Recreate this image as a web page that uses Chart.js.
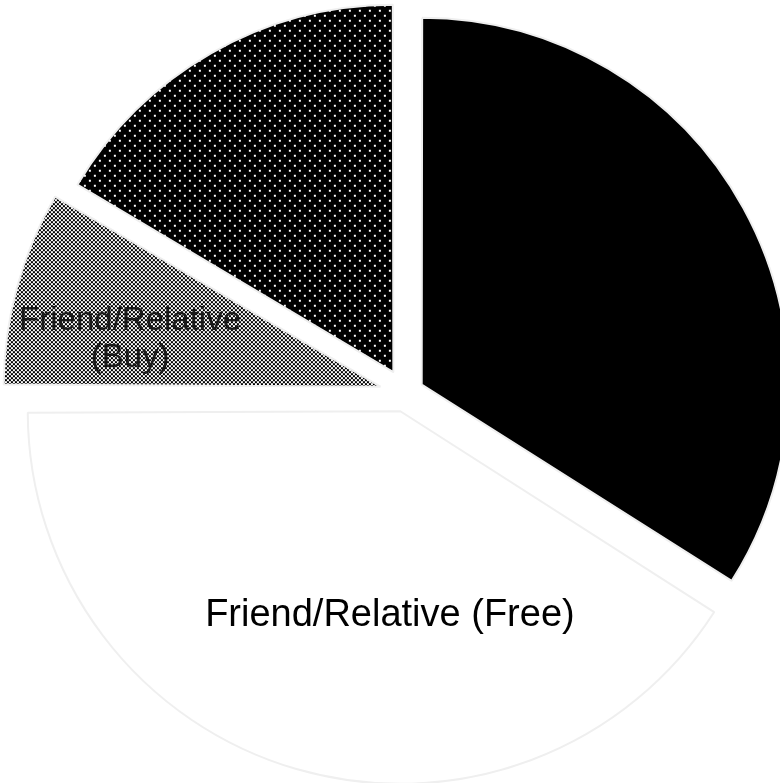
<!DOCTYPE html>
<html>
<head>
<meta charset="utf-8">
<script src="https://cdn.jsdelivr.net/npm/chart.js@4.4.0/dist/chart.umd.min.js"></script>
<style>
  html, body { margin: 0; padding: 0; background: #ffffff; }
  #wrap { width: 780px; height: 783px; }
</style>
</head>
<body>
<div id="wrap"><canvas id="chart-pie" width="780" height="783"></canvas></div>
<script>
// ── Données du camembert ──────────────────────────────────
// Les libellés des parts noire et pointillée sont illisibles (texte noir sur noir)
const CATEGORIES = ['', 'Friend/Relative (Free)', 'Friend/Relative (Buy)', ''];
const VALUES     = [34, 41, 8.5, 16.5];

// Texte affiché dans chaque part (une entrée par ligne)
const LABEL_LINES = [[], ['Friend/Relative (Free)'], ['Friend/Relative', '(Buy)'], []];

// ── Motifs de remplissage ────────────────────────────────
function makePattern(size, draw) {
  const c = document.createElement('canvas');
  c.width = size; c.height = size;
  const g = c.getContext('2d');
  draw(g);
  return g.createPattern(c, 'repeat');
}

// damier fin noir / blanc
const checker = makePattern(4, g => {
  g.fillStyle = '#ffffff'; g.fillRect(0, 0, 4, 4);
  g.fillStyle = '#000000';
  g.fillRect(0, 0, 2, 2);
  g.fillRect(2, 2, 2, 2);
});

// fond noir à petits points blancs en quinconce
const dots = makePattern(10, g => {
  g.fillStyle = '#000000'; g.fillRect(0, 0, 10, 10);
  g.fillStyle = '#ffffff';
  g.fillRect(1, 1, 2, 2);
  g.fillRect(6, 6, 2, 2);
});

// ── Plugin : libellés posés dans les parts ───────────────
const sliceLabels = {
  id: 'sliceLabels',
  afterDatasetsDraw(chart, args, opts) {
    const ctx = chart.ctx;
    const meta = chart.getDatasetMeta(0);
    const offsets = chart.data.datasets[0].offset;
    meta.data.forEach((arc, i) => {
      const lines = LABEL_LINES[i];
      if (!lines.length) return;
      const p = arc.getProps(['x', 'y', 'startAngle', 'endAngle', 'outerRadius'], true);
      const mid = (p.startAngle + p.endAngle) / 2;
      const shift = offsets[i] / 4; // Chart.js décale la part de offset/4
      const ang = p.startAngle + (p.endAngle - p.startAngle) * opts.angleFrac[i];
      const r = p.outerRadius * opts.radiusFrac[i];
      const cx = p.x + Math.cos(mid) * shift + Math.cos(ang) * r;
      const cy = p.y + Math.sin(mid) * shift + Math.sin(ang) * r;
      const size = opts.fontSize[i];
      const lh = size * 1.1;
      ctx.save();
      ctx.font = size + 'px "Liberation Sans", Arial, sans-serif';
      ctx.fillStyle = opts.color[i];
      ctx.textAlign = 'center';
      ctx.textBaseline = 'middle';
      lines.forEach((t, k) => {
        ctx.fillText(t, cx, cy + (k - (lines.length - 1) / 2) * lh);
      });
      ctx.restore();
    });
  }
};

new Chart(document.getElementById('chart-pie').getContext('2d'), {
  type: 'pie',
  data: {
    labels: CATEGORIES,
    datasets: [{
      data: VALUES,
      backgroundColor: ['#000000', '#ffffff', checker, dots],
      borderColor: '#efefef',
      borderWidth: 2,
      offset: [74, 74, 104, 98],
      clip: false
    }]
  },
  options: {
    responsive: false,
    animation: false,
    radius: 364,
    layout: { padding: { left: 31, top: 4, right: 0, bottom: 0 } },
    plugins: {
      legend: { display: false },
      tooltip: { enabled: false },
      sliceLabels: {
        angleFrac:  [0.5, 0.41, 0.35, 0.5],
        radiusFrac: [0.5, 0.563, 0.70, 0.5],
        fontSize:   [30, 38, 33, 30],
        color:      ['#000', '#000', '#1a1a1a', '#000']
      }
    }
  },
  plugins: [sliceLabels]
});
</script>
</body>
</html>
